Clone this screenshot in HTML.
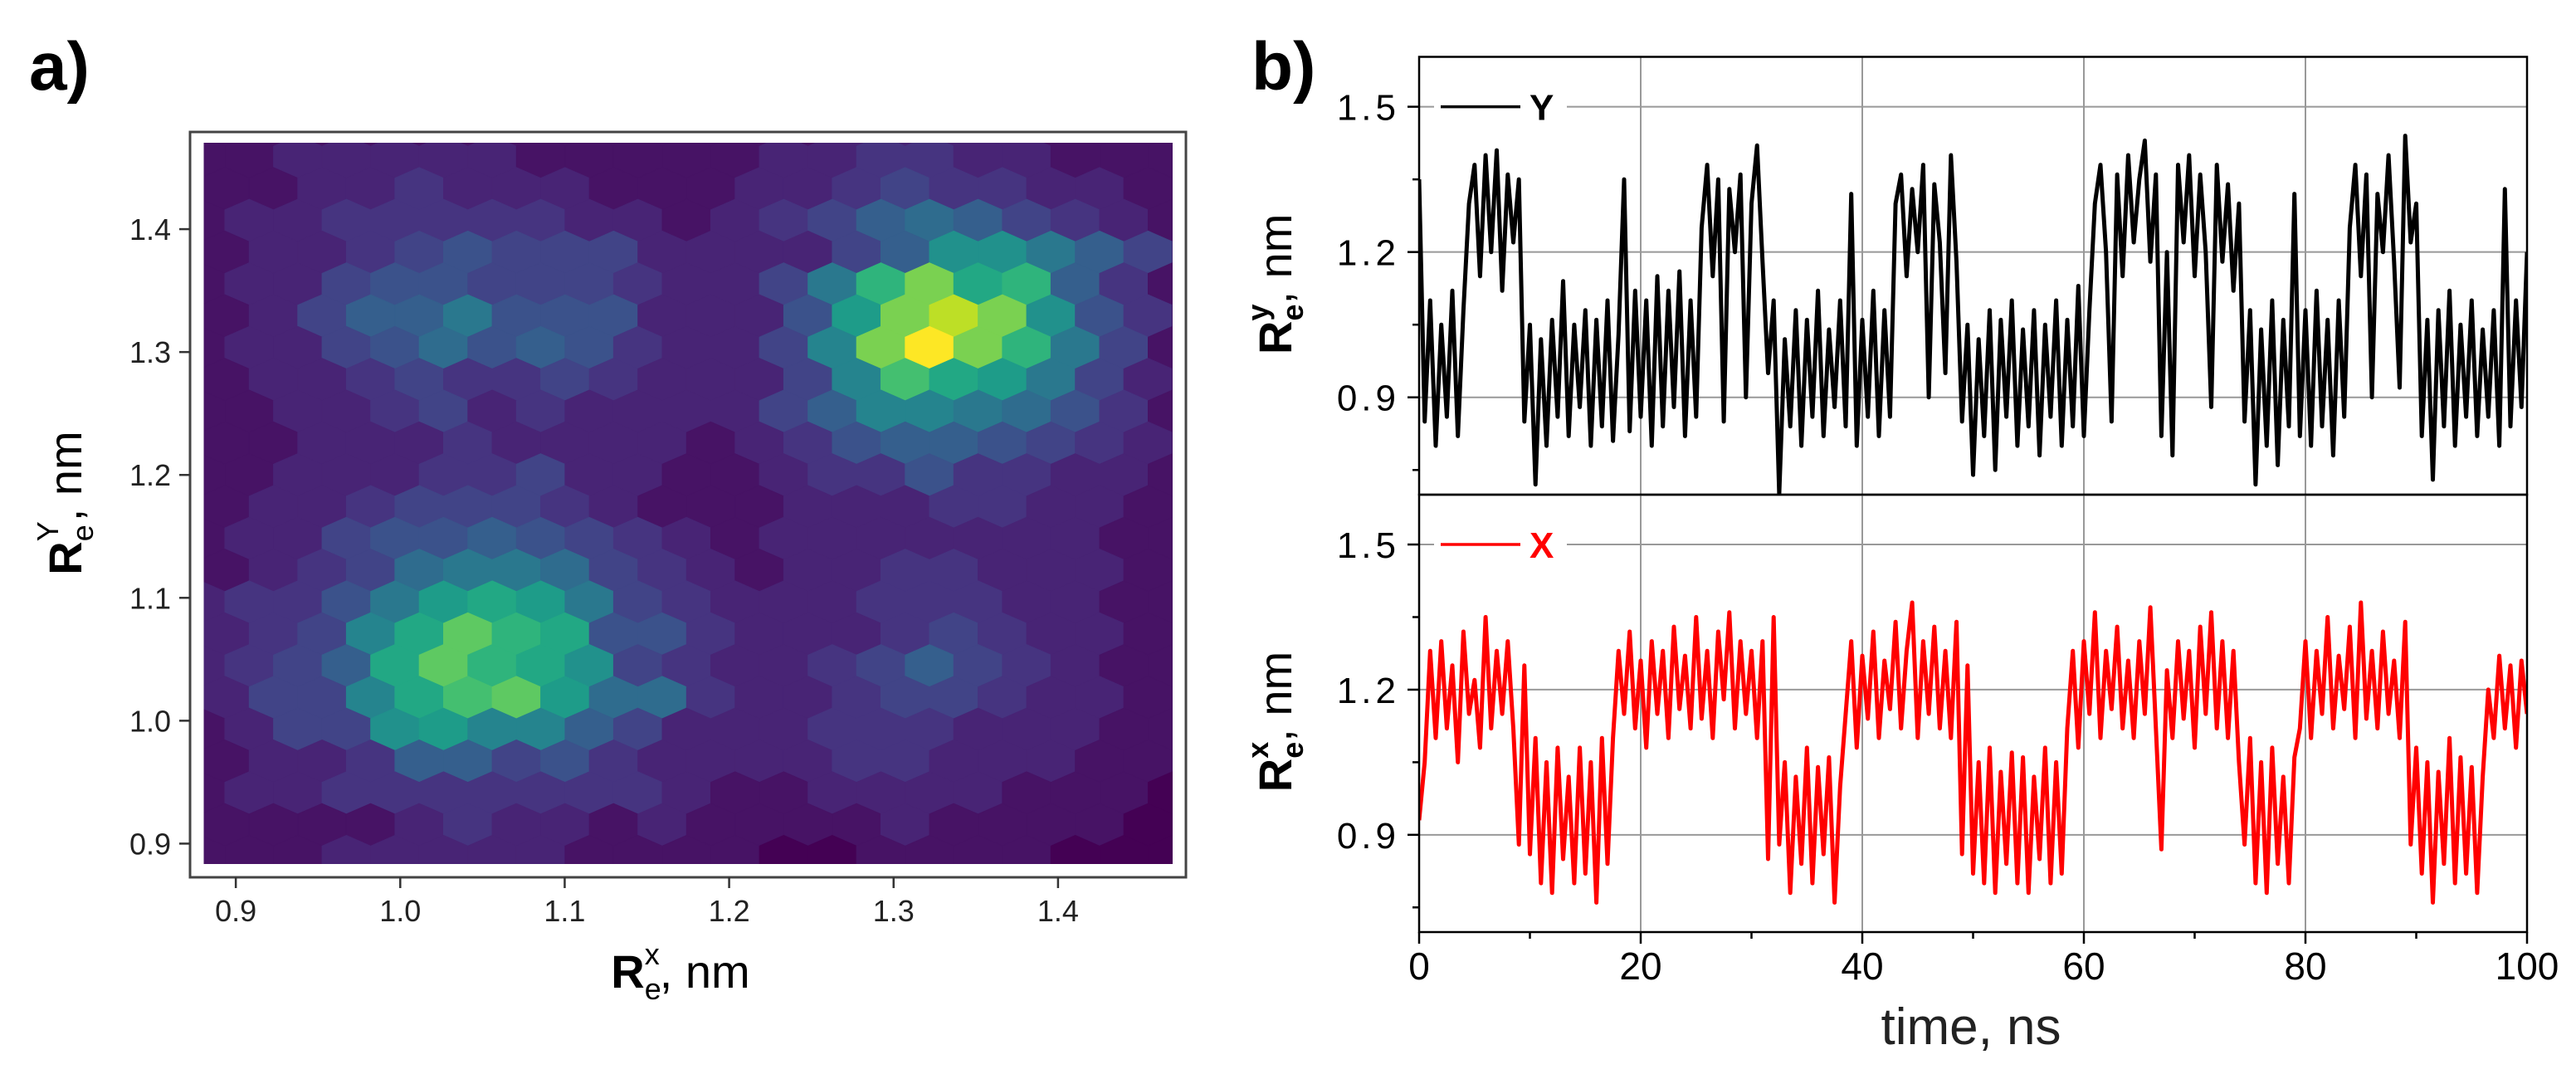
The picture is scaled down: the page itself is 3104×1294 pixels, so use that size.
<!DOCTYPE html>
<html><head><meta charset="utf-8"><style>
html,body{margin:0;padding:0;background:#fff;}
svg{display:block;}
text{font-family:"Liberation Sans",sans-serif;}
</style></head><body>
<svg id="fig" width="3104" height="1294" viewBox="0 0 3104 1294" xmlns="http://www.w3.org/2000/svg">
<text x="35" y="108" font-size="82" font-weight="bold">a)</text>
<text x="1508" y="108" font-size="82" font-weight="bold">b)</text>
<g id="hexPanel"></g>
<g id="tsPanel"></g>
</svg>
<script>
// ---------- Hexbin data (viridis level 0..20 per cell, rows k=-7..16) ----------
const hexRowStart = -7;
const hexLevels = [
"0111111111111122221110",
"0112222211111223322111",
"0112232221112234332211",
"1122333332212346764321",
"1122345444222246aa8642",
"112245544432248dgcd631",
"11246685552225bgiga531",
"112245756532249gkgd841",
"112234334322249ecb8421",
"1112234232222469987531",
"1112223222212356654321",
"1112223342211233533221",
"1122344432111222332211",
"1122455654321222222211",
"1123478874321223322211",
"123358bcb8432223332211",
"12349cfdc5532223432211",
"12346cfdca432234643211",
"12449cefb7732234432211",
"11244ab996422233322211",
"1122366453222233222111",
"1122333333321122221110",
"1111123221211112111100",
"1111222221111001111000"
];
const hexXTicks = [0.9,1.0,1.1,1.2,1.3,1.4];
const hexYTicks = [0.9,1.0,1.1,1.2,1.3,1.4];
const hexXTickLabels = ["0.9","1.0","1.1","1.2","1.3","1.4"];
const hexYTickLabels = ["0.9","1.0","1.1","1.2","1.3","1.4"];

// ---------- Time series data (t = 0..100 ns, step 0.5) ----------
const tStep = 0.5;
const seriesY = [1.35,0.85,
1.10,0.80,1.05,0.86,1.12,0.82,1.08,
1.30,1.38,1.15,1.40,1.20,1.41,1.12,1.36,1.22,1.35,
0.85,1.05,0.72,1.02,0.80,1.06,0.86,1.14,0.82,1.05,0.88,1.08,0.80,1.06,0.84,1.10,0.81,1.03,1.35,0.83,1.12,0.86,1.10,0.80,1.15,0.84,1.12,0.88,1.16,0.82,1.10,0.86,
1.25,1.38,1.15,1.35,0.85,1.33,1.20,1.36,0.90,1.30,1.42,1.18,
0.95,1.10,0.70,1.02,0.84,1.08,0.80,1.06,0.86,1.12,0.82,1.04,0.88,1.10,0.84,1.32,0.80,1.06,0.86,1.12,0.82,1.08,0.86,
1.30,1.36,1.15,1.33,1.20,1.38,0.90,1.34,1.22,0.95,1.40,1.18,
0.85,1.05,0.74,1.02,0.82,1.08,0.75,1.06,0.86,1.10,0.80,1.04,0.84,1.08,0.78,1.05,0.86,1.10,0.80,1.06,0.84,1.13,0.82,1.08,
1.30,1.38,1.20,0.85,1.36,1.15,1.40,1.22,1.35,1.43,1.18,1.36,0.82,1.20,0.78,1.38,1.22,1.40,1.15,1.36,1.20,0.88,1.38,1.18,1.34,1.12,1.30,
0.85,1.08,0.72,1.04,0.80,1.10,0.76,1.06,0.84,1.32,
0.82,1.08,0.80,1.12,0.84,1.06,0.78,1.10,0.86,
1.25,1.38,1.15,1.36,0.90,1.32,1.20,1.40,1.18,0.92,1.44,1.22,1.30,
0.82,1.06,0.73,1.08,0.84,1.12,0.80,1.05,0.86,1.10,0.82,1.04,0.86,1.08,0.80,1.33,0.84,1.10,0.88,1.20];
const seriesX = [0.93,1.05,
1.28,1.10,1.30,1.12,1.25,1.05,1.32,1.15,1.22,1.08,1.35,1.12,1.28,1.15,1.30,1.12,
0.88,1.25,0.86,1.10,
0.80,1.05,0.78,1.08,0.85,1.02,0.80,1.08,0.82,1.05,0.76,1.10,0.84,
1.10,1.28,1.15,1.32,1.12,1.26,1.08,1.30,1.15,1.28,1.10,1.33,1.16,1.27,1.12,1.35,1.14,1.28,1.10,1.32,1.18,1.36,1.12,1.30,1.15,1.28,1.10,1.30,
0.85,1.35,
0.88,1.05,0.78,1.02,0.84,1.08,0.80,1.04,0.86,1.06,0.76,1.00,
1.15,1.30,1.08,1.27,1.14,1.32,1.10,1.26,1.16,1.34,1.12,1.28,1.38,1.10,1.30,1.15,1.33,1.12,1.28,1.10,1.34,
0.86,1.25,0.82,1.05,0.80,1.08,0.78,1.03,0.84,1.07,0.80,1.06,0.78,1.02,0.85,1.08,0.80,1.05,0.82,
1.12,1.28,1.08,1.30,1.15,1.36,1.10,1.28,1.16,1.33,1.12,1.26,1.10,1.30,1.15,1.37,1.12,0.87,1.24,1.10,1.30,1.14,1.28,1.08,1.33,1.15,1.36,1.12,1.30,1.10,1.28,1.05,
0.88,1.10,0.80,1.05,0.78,1.08,0.84,1.02,0.80,1.06,
1.12,1.30,1.10,1.28,1.15,1.35,1.12,1.27,1.16,1.33,1.10,1.38,1.14,1.28,1.12,1.32,1.15,1.26,1.10,1.34,
0.88,1.08,0.82,1.05,0.76,1.03,0.84,1.10,0.80,1.06,0.82,1.04,0.78,1.02,
1.20,1.10,1.27,1.12,1.25,1.08,1.26,1.15];
const tsXTicks = [0,20,40,60,80,100];
const tsXTickLabels = ["0","20","40","60","80","100"];
const tsYTicks = [0.9,1.2,1.5];
const tsYTickLabels = ["0.9","1.2","1.5"];
const tsYMinor = [0.75,1.05,1.35];
const tsXMinor = [10,30,50,70,90];

const NS = "http://www.w3.org/2000/svg";
function mk(tag, attrs, parent){
  const e = document.createElementNS(NS, tag);
  for (const k in attrs) e.setAttribute(k, attrs[k]);
  parent.appendChild(e);
  return e;
}
const viridis = ["#440154","#471365","#482475","#463480","#414487","#3b528b","#355f8d","#2f6c8e","#2a788e","#25848e","#21918c","#1e9c89","#22a884","#2fb47c","#44bf70","#5ec962","#7ad151","#9bd93c","#bddf26","#dfe318","#fde725"];

// ---------- Panel a: hexbin ----------
(function(){
  const g = document.getElementById('hexPanel');
  const px0 = 245.5, px1 = 1413, py0 = 172, py1 = 1041;
  const xMin = 0.8805, xMax = 1.4697, yMin = 0.8834, yMax = 1.4703;
  const sx = v => px0 + (v - xMin) / (xMax - xMin) * (px1 - px0);
  const sy = v => py1 - (v - yMin) / (yMax - yMin) * (py1 - py0);
  const frame = mk('rect', {x:229, y:159, width:1200, height:898, fill:'#fff', stroke:'#444', 'stroke-width':3}, g);
  
  
  const cp = mk('clipPath', {id:'hexclip'}, g);
  mk('rect', {x:px0, y:py0, width:px1-px0, height:py1-py0}, cp);
  const cells = mk('g', {'clip-path':'url(#hexclip)'}, g);
  
  
  mk('rect', {x:px0, y:py0, width:px1-px0, height:py1-py0, fill:'#45075a'}, cells);
  const colW = 0.02955, rowH = 0.02588; // data units
  const x0 = 0.8490, y0 = 1.3036;
  const hw = sx(xMin + colW) - sx(xMin);
  const rh = sy(yMin) - sy(yMin + rowH);
  hexLevels.forEach((row, ri) => {
    const k = hexRowStart + ri;
    const odd = Math.abs(k) % 2 === 1;
    for (let j = 0; j < row.length; j++){
      const lvl = parseInt(row[j], 21);
      const cxv = x0 + colW * j + (odd ? colW/2 : 0);
      const cyv = y0 - rowH * k;
      const cx = sx(cxv), cy = sy(cyv);
      const a = rh*2/3, b = rh/3;
      const pts = [[cx, cy-a],[cx+hw/2, cy-b],[cx+hw/2, cy+b],[cx, cy+a],[cx-hw/2, cy+b],[cx-hw/2, cy-b]]
        .map(p => p[0].toFixed(1)+','+p[1].toFixed(1)).join(' ');
      const hx = mk('polygon', {points:pts, fill:viridis[lvl], stroke:viridis[lvl], 'stroke-width':0.8}, cells);
      
      
    }
  });
  hexXTicks.forEach((v, i) => {
    const x = sx(v);
    mk('line', {x1:x, y1:1057, x2:x, y2:1070, stroke:'#333', 'stroke-width':2.5}, g);
    const t = mk('text', {x:x, y:1110, 'font-size':36, fill:'#222', 'text-anchor':'middle', 'font-family':'DejaVu Sans, sans-serif'}, g);
    t.textContent = hexXTickLabels[i];
    
    
  });
  hexYTicks.forEach((v, i) => {
    const y = sy(v);
    mk('line', {x1:216, y1:y, x2:229, y2:y, stroke:'#333', 'stroke-width':2.5}, g);
    const t = mk('text', {x:206, y:y+13, 'font-size':36, fill:'#222', 'text-anchor':'end', 'font-family':'DejaVu Sans, sans-serif'}, g);
    t.textContent = hexYTickLabels[i];
    
    
  });
  const xl = mk('text', {x:820, y:1190, 'font-size':56, 'text-anchor':'middle', fill:'#000'}, g);
  xl.innerHTML = '<tspan font-weight="bold">R</tspan><tspan font-size="36" dy="14">e</tspan><tspan font-size="36" dx="-20" dy="-42">x</tspan><tspan dy="28">, nm</tspan>';
  
  
  const yl = mk('text', {x:0, y:0, 'font-size':56, 'text-anchor':'middle', fill:'#000', transform:'translate(98,606) rotate(-90)'}, g);
  yl.innerHTML = '<tspan font-weight="bold">R</tspan><tspan font-size="36" dy="14">e</tspan><tspan font-size="36" dx="-20" dy="-42">Y</tspan><tspan dy="28">, nm</tspan>';
  
  
})();

// ---------- Panel b: time series ----------
(function(){
  const g = document.getElementById('tsPanel');
  const L = 1710, R = 3045;
  const sx = t => L + t / 100 * (R - L);
  const yMin = 0.699, yMax = 1.603;
  const panels = [
    {top:68.5, bot:596, data:seriesY, color:'#000', name:'Y', lname:'y'},
    {top:596, bot:1123, data:seriesX, color:'#ff0000', name:'X', lname:'x'}
  ];
  panels.forEach((p, pi) => {
    const sy = v => p.bot - (v - yMin) / (yMax - yMin) * (p.bot - p.top);
    const pg = mk('g', {}, g);
    
    
    tsXTicks.forEach(v => { if (v>0 && v<100) mk('line', {x1:sx(v), y1:p.top, x2:sx(v), y2:p.bot, stroke:'#999', 'stroke-width':2}, pg); });
    tsYTicks.forEach(v => mk('line', {x1:L, y1:sy(v), x2:R, y2:sy(v), stroke:'#999', 'stroke-width':2}, pg));
    const cid = 'clip' + pi;
    const cp = mk('clipPath', {id:cid}, pg);
    mk('rect', {x:L, y:p.top, width:R-L, height:p.bot-p.top}, cp);
    const pts = p.data.map((v, i) => sx(i*tStep).toFixed(1) + ',' + sy(v).toFixed(1)).join(' ');
    const line = mk('polyline', {points:pts, fill:'none', stroke:p.color, 'stroke-width':5, 'stroke-linejoin':'round', 'clip-path':'url(#'+cid+')'}, pg);
    
    
    mk('rect', {x:L, y:p.top, width:R-L, height:p.bot-p.top, fill:'none', stroke:'#000', 'stroke-width':2.5}, pg);
    tsYTicks.forEach((v, i) => {
      mk('line', {x1:L-14, y1:sy(v), x2:L, y2:sy(v), stroke:'#000', 'stroke-width':2.5}, pg);
      const t = mk('text', {x:1687, y:sy(v)+16, 'font-size':44, 'text-anchor':'end', 'letter-spacing':'5', fill:'#000'}, pg);
      t.textContent = tsYTickLabels[i];
      
      
    });
    tsYMinor.forEach(v => mk('line', {x1:L-8, y1:sy(v), x2:L, y2:sy(v), stroke:'#000', 'stroke-width':2.5}, pg));
    const ly = sy(1.5);
    mk('rect', {x:1728, y:ly-22, width:160, height:44, fill:'#fff'}, pg);
    mk('line', {x1:1736, y1:ly, x2:1832, y2:ly, stroke:p.color, 'stroke-width':3.5}, pg);
    const lt = mk('text', {x:1843, y:ly+16, 'font-size':44, 'font-weight':'bold', fill:p.color}, pg);
    lt.textContent = p.name;
    
    
    const yl = mk('text', {x:0, y:0, 'font-size':56, 'text-anchor':'middle', fill:'#000', transform:'translate(1556,' + ((p.top+p.bot)/2 + 10) + ') rotate(-90)'}, pg);
    yl.innerHTML = '<tspan font-weight="bold">R</tspan><tspan font-size="36" dy="14" font-weight="bold">e</tspan><tspan font-size="36" dx="-20" dy="-42" font-weight="bold">' + p.lname + '</tspan><tspan dy="28">, nm</tspan>';
    
    
  });
  tsXTicks.forEach((v, i) => {
    mk('line', {x1:sx(v), y1:1123, x2:sx(v), y2:1137, stroke:'#000', 'stroke-width':2.5}, g);
    const t = mk('text', {x:sx(v), y:1180, 'font-size':46, 'text-anchor':'middle', fill:'#000'}, g);
    t.textContent = tsXTickLabels[i];
    
    
  });
  tsXMinor.forEach(v => mk('line', {x1:sx(v), y1:1123, x2:sx(v), y2:1131, stroke:'#000', 'stroke-width':2.5}, g));
  const xt = mk('text', {x:2375, y:1258, 'font-size':62, 'text-anchor':'middle', fill:'#222'}, g);
  xt.textContent = 'time, ns';
  
  
})();
</script>
</body></html>
